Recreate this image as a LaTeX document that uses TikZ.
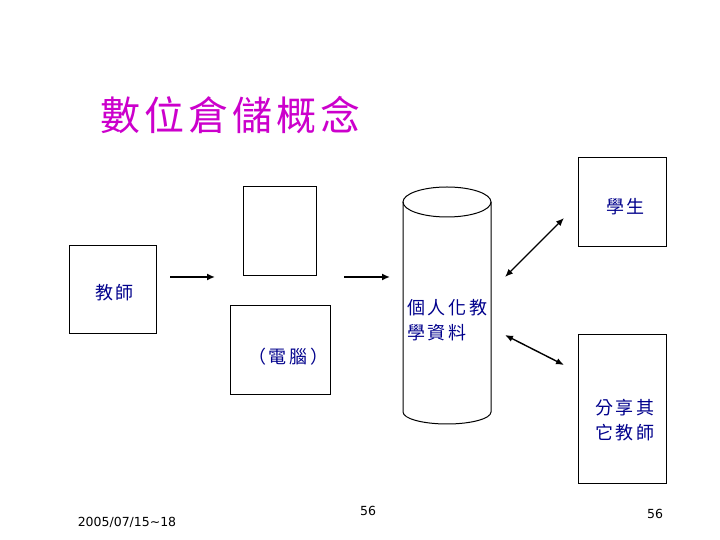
\documentclass[tikz,border=0pt]{standalone}
\usepackage{fontspec}
\setmainfont{DejaVu Sans}
\newfontfamily\cjk{Noto Sans CJK TC}
\newfontfamily\cjkwide[LetterSpace=15]{Noto Sans CJK TC}
\newfontfamily\cjktitle[LetterSpace=10]{Noto Sans CJK TC}
\usetikzlibrary{arrows.meta}
\definecolor{titlemag}{RGB}{204,0,204}
\definecolor{navytxt}{RGB}{0,0,140}
\begin{document}
\begin{tikzpicture}[x=1pt,y=1pt,
  box/.style={draw=black,line width=1pt,inner sep=0pt},
  lbl/.style={font=\cjkwide\fontsize{18}{25}\selectfont,text=navytxt,inner sep=0pt,align=center},
  arr/.style={line width=1.6pt,-{Latex[length=8pt,width=7pt]}},
  darr/.style={line width=1.4pt,{Latex[length=8pt,width=6.5pt]}-{Latex[length=8pt,width=6.5pt]}},
  foot/.style={font=\fontsize{12.5}{14}\selectfont,inner sep=0pt}]
\useasboundingbox[fill=white] (0,0) rectangle (720,540);
% title
\node[font=\cjktitle\fontsize{40}{44}\selectfont,text=titlemag,inner sep=0pt,anchor=west] (title) at (100,425) {數位倉儲概念};
% boxes
\node[box,minimum width=87pt,minimum height=88pt] (teacher) at (112.5,250) {};
\node[box,minimum width=73pt,minimum height=89pt] (upper) at (279.5,308.5) {};
\node[box,minimum width=100pt,minimum height=89pt] (pc) at (280,189.5) {};
\node[box,minimum width=88pt,minimum height=89pt] (student) at (622,337.5) {};
\node[box,minimum width=88pt,minimum height=149pt] (share) at (622,130.5) {};
% labels
\node[lbl,anchor=west] (tlbl) at (95,247) {教師};
\node[lbl,anchor=west] (pclbl) at (248,183) {（電腦）};
\node[lbl,anchor=west] (slbl) at (606,333) {學生};
\node[lbl,anchor=west,align=left] (shlbl) at (595,120) {分享其\\它教師};
% cylinder
\draw[line width=1pt] (447,338) ellipse [x radius=44,y radius=15];
\draw[line width=1pt] (403,338) -- (403,128) arc[start angle=180,end angle=360,x radius=44,y radius=12] -- (491,338);
\node[lbl,align=left,anchor=west] (dblbl) at (407,219.5) {個人化教\\學資料};
% arrows
\coordinate (a1s) at (170,263); \coordinate (a1e) at (215,263);
\coordinate (a2s) at (344,263); \coordinate (a2e) at (390,263);
\coordinate (d1s) at (505,263); \coordinate (d1e) at (564,322);
\coordinate (d2s) at (505,205); \coordinate (d2e) at (564,175);
\draw[arr] (a1s) -- (a1e);
\draw[arr] (a2s) -- (a2e);
\draw[darr] (d1s) -- (d1e);
\draw[darr] (d2s) -- (d2e);
% footer
\node[foot] (date) at (127,18) {2005/07/15\char"007E 18};
\node[foot] (pg1) at (368,29) {56};
\node[foot] (pg2) at (655,26) {56};
\end{tikzpicture}
\end{document}
